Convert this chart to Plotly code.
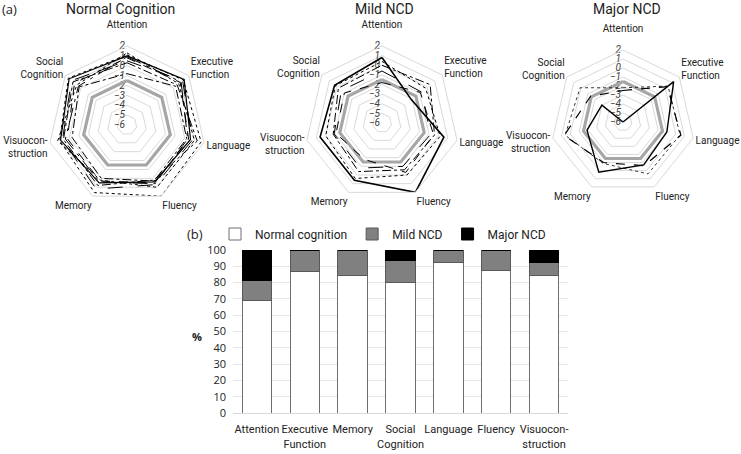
import plotly.graph_objects as go

# ---------------- data ----------------
radar_domains = ["Attention", "Executive Function", "Language", "Fluency",
                 "Memory", "Visuoconstruction", "Social Cognition"]
radar_labels = ["Attention<br> ", "Executive<br>Function", "Language", "Fluency",
                "Memory", "Visuocon-<br>struction", "Social<br>Cognition"]
radial_ticks = [2, 1, 0, -1, -2, -3, -4, -5, -6]
cutoff = [-1.5] * 7

# Normal cognition patients (z-scores per domain)
nc_1 = [1.0, 1.4, 0.6, 0.4, 0.5, 0.9, 1.5]
nc_2 = [1.1, 1.3, 1.7, 2.0, 1.6, 1.0, 1.6]
nc_3 = [0.8, 0.9, 0.4, 0.5, 0.3, 0.2, 0.8]
nc_4 = [-0.8, 0.3, 0.2, 0.3, 0.0, -0.3, 0.2]
nc_5 = [0.5, 1.2, 0.8, 0.7, 1.2, 0.7, 1.2]
nc_6 = [1.3, 0.7, 1.0, 1.0, 0.2, 1.2, 0.5]
nc_7 = [0.3, 0.5, 1.3, 0.2, 0.8, 0.6, 1.0]
nc_8 = [0.9, 1.0, 0.3, 0.6, 0.4, 0.4, 0.3]

# Mild NCD patients
mild_1 = [0.8, -2.1, 0.6, 2.0, 0.6, 0.6, 0.3]
mild_2 = [-1.8, -0.9, -0.5, -0.3, -1.8, -1.1, -1.0]
mild_3 = [0.0, 0.4, -0.4, -0.6, -0.4, -0.8, -0.2]
mild_4 = [0.4, -0.2, 0.2, 0.0, 0.4, 0.0, 0.2]
mild_5 = [-0.6, -0.8, -0.8, -1.0, -0.8, -0.9, -0.6]

# Major NCD patients
major_1 = [-6.0, 1.2, -1.0, -0.7, 0.2, -1.9, -3.0]
major_2 = [-2.5, 0.3, 0.6, -0.6, -1.0, 0.7, -1.4]
major_3 = [-2.2, 0.4, 0.5, 0.4, -0.9, 0.6, 0.1]

# Bar chart
bar_domains = ["Attention", "Executive<br>Function", "Memory", "Social<br>Cognition",
               "Language", "Fluency", "Visuocon-<br>struction"]
pct_normal = [68.75, 86.67, 84.62, 80.0, 92.31, 87.5, 84.62]
pct_mild = [12.5, 13.33, 15.38, 13.33, 7.69, 12.5, 7.69]
pct_major = [18.75, 0, 0, 6.67, 0, 0, 7.69]
bar_ticks = [0, 10, 20, 30, 40, 50, 60, 70, 80, 90, 100]

FONT = "Roboto, Liberation Sans, sans-serif"
FONT2 = "Open Sans, Liberation Sans, sans-serif"

fig = go.Figure()


def close(v):
    return list(v) + [v[0]]


theta_c = close(radar_domains)


def add_ring(sub):
    fig.add_trace(go.Scatterpolar(r=close(cutoff), theta=theta_c, mode="lines",
                                  line=dict(color="#a6a6a6", width=3.2),
                                  subplot=sub, showlegend=False, hoverinfo="skip"))


def add_line(sub, vals, dash="solid", width=1.0, marker=None, msize=4):
    mode = "lines+markers" if marker else "lines"
    fig.add_trace(go.Scatterpolar(r=close(vals), theta=theta_c, mode=mode,
                                  line=dict(color="black", width=width, dash=dash),
                                  marker=dict(symbol=marker or "circle", size=msize, color="black"),
                                  subplot=sub, showlegend=False, hoverinfo="skip"))


# Normal cognition
add_ring("polar")
add_line("polar", nc_1, "solid", 1.2, "square", 5)
add_line("polar", nc_2, "dot", 1.0, "square", 5)
add_line("polar", nc_3, "dash", 1.0)
add_line("polar", nc_4, "dashdot", 1.0, "triangle-up", 4)
add_line("polar", nc_5, "longdash", 1.0)
add_line("polar", nc_6, "dot", 1.0)
add_line("polar", nc_7, "dashdot", 1.0)
add_line("polar", nc_8, "longdashdot", 1.0, "square", 3)

# Mild NCD
add_ring("polar2")
add_line("polar2", mild_1, "solid", 1.6, "square", 4)
add_line("polar2", mild_2, "dash", 1.0, "square", 4)
add_line("polar2", mild_3, "dashdot", 1.0, "circle", 3)
add_line("polar2", mild_4, "dot", 1.0)
add_line("polar2", mild_5, "longdash", 1.0)

# Major NCD
add_ring("polar3")
add_line("polar3", major_1, "solid", 1.4, "circle", 3)
add_line("polar3", major_2, "dash", 1.2, "circle", 4)
add_line("polar3", major_3, "dot", 0.8, "circle", 3)

# Bar chart
fig.add_trace(go.Bar(x=bar_domains, y=pct_normal, name="Normal cognition",
                     marker=dict(color="white", line=dict(color="#6e6e6e", width=1))))
fig.add_trace(go.Bar(x=bar_domains, y=pct_mild, name="Mild NCD",
                     marker=dict(color="#808080", line=dict(color="#595959", width=1))))
fig.add_trace(go.Bar(x=bar_domains, y=pct_major, name="Major NCD",
                     marker=dict(color="black", line=dict(color="black", width=1))))


def polar_layout(dx, dy):
    return dict(
        domain=dict(x=dx, y=dy),
        bgcolor="white",
        gridshape="linear",
        radialaxis=dict(range=[-6, 2], tickvals=radial_ticks, angle=90, tickangle=90,
                        side="counterclockwise",
                        showline=False, ticks="", gridcolor="#d9d9d9", gridwidth=1,
                        layer="below traces",
                        tickfont=dict(family=FONT, size=10, color="#404040", style="italic")),
        angularaxis=dict(direction="clockwise", rotation=90, showgrid=False,
                         tickmode="array", tickvals=radar_domains, ticktext=radar_labels,
                         linecolor="#d9d9d9", linewidth=1, ticks="",
                         tickfont=dict(family=FONT, size=10, color="#222")),
    )


fig.update_layout(
    width=741, height=454,
    margin=dict(l=0, r=0, t=0, b=0, autoexpand=False),
    paper_bgcolor="white", plot_bgcolor="white",
    barmode="stack", bargap=0.386,
    polar=polar_layout([48/741, 206/741], [0.5507, 0.8987]),
    polar2=polar_layout([0.4116, 0.6194], [0.5595, 0.8987]),
    polar3=polar_layout([551/741, 695/741], [0.5727, 0.8899]),
    xaxis=dict(domain=[233/741, 568/741], showgrid=False, showline=True, linecolor="#d9d9d9",
               ticks="", tickangle=0, automargin=False, ticklabelstandoff=6,
               tickfont=dict(family=FONT, size=11, color="#222")),
    yaxis=dict(domain=[0.0903, 0.4493], range=[0, 100], tickvals=bar_ticks,
               gridcolor="#e6e6e6", showline=False, zeroline=False, ticks="", automargin=False,
               ticklabelstandoff=6,
               tickfont=dict(family=FONT2, size=11, color="#222")),
    legend=dict(orientation="h", x=383/741, y=1 - 234/454, xanchor="center", yanchor="middle",
                bgcolor="rgba(0,0,0,0)",
                font=dict(family=FONT, size=12, color="#222"), traceorder="normal",
                itemwidth=30, tracegroupgap=0),
)

for txt, cx, cy, sz, fam in [("(a)", 9, 9, 13, FONT2), ("(b)", 195, 234, 13, FONT2),
                             ("<b>%</b>", 197, 336, 11, FONT2),
                             ("Normal Cognition", 120, 9, 14, FONT),
                             ("Mild NCD", 384, 9, 14, FONT),
                             ("Major NCD", 627, 9, 14, FONT)]:
    fig.add_annotation(text=txt, x=cx/741, y=1 - cy/454, xref="paper", yref="paper",
                       xanchor="center", yanchor="middle", showarrow=False,
                       font=dict(family=fam, size=sz, color="#222"))

fig.write_html("out.html", config={"displayModeBar": False},
               post_script="document.body.style.margin='0';")
